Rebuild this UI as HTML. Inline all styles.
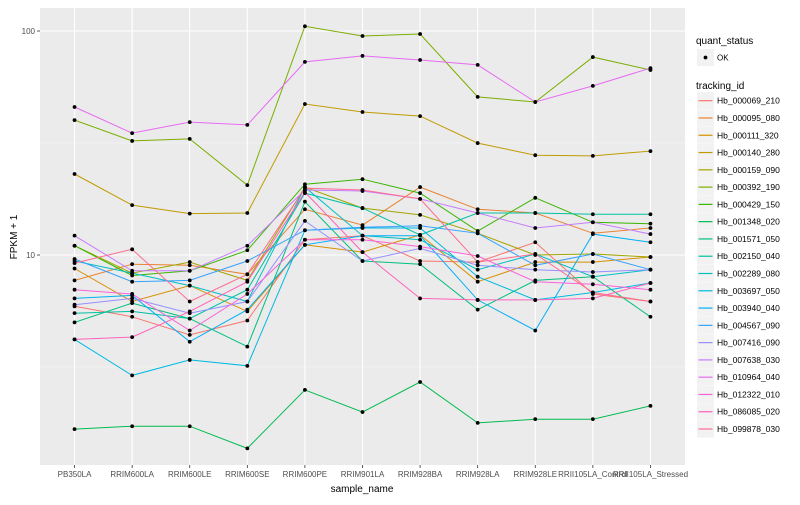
<!DOCTYPE html>
<html><head><meta charset="utf-8"><style>
body{margin:0;background:#fff;font-family:"Liberation Sans",sans-serif}
svg text{font-family:"Liberation Sans",sans-serif}
</style></head><body>
<svg id="c" width="800" height="500" xmlns="http://www.w3.org/2000/svg"></svg>
<script>
const categories=["PB350LA","RRIM600LA","RRIM600LE","RRIM600SE","RRIM600PE","RRIM901LA","RRIM928BA","RRIM928LA","RRIM928LE","RRII105LA_Control","RRII105LA_Stressed"];
const seriesNames=["Hb_000069_210","Hb_000095_080","Hb_000111_320","Hb_000140_280","Hb_000159_090","Hb_000392_190","Hb_000429_150","Hb_001348_020","Hb_001571_050","Hb_002150_040","Hb_002289_080","Hb_003697_050","Hb_003940_040","Hb_004567_090","Hb_007416_090","Hb_007638_030","Hb_010964_040","Hb_012322_010","Hb_086085_020","Hb_099878_030"];
const seriesColors=["#F8766D","#EA8331","#D89000","#C09B00","#A3A500","#7CAE00","#39B600","#00BB4E","#00BF7D","#00C1A3","#00BFC4","#00BAE0","#00B0F6","#35A2FF","#9590FF","#C77CFF","#E76BF3","#FA62DB","#FF62BC","#FF6C91"];
const s01=[5.9,5.3,4.4,5.1,11.7,12.2,9.4,9.3,11.4,6.7,6.2];
const s02=[7.7,9.1,9.0,8.2,16.0,13.6,20.1,16.0,15.4,12.5,13.2];
const s03=[8.7,6.2,7.3,5.6,11.1,10.3,12.3,7.6,9.3,9.3,9.8];
const s04=[23.0,16.7,15.3,15.4,47.2,43.5,41.7,31.6,27.9,27.7,29.1];
const s05=[11.0,8.3,9.3,7.7,20.1,16.2,15.1,12.5,10.0,10.1,9.8];
const s06=[40.0,32.3,33.0,20.5,105,95,97,50.8,48.2,76.5,67.0];
const s07=[11.0,8.1,8.5,10.5,20.7,21.8,18.9,12.8,18.0,14.0,13.8];
const s08=[1.67,1.72,1.72,1.37,2.50,1.99,2.71,1.78,1.85,1.85,2.12];
const s09=[5.0,6.1,5.2,3.9,17.3,9.4,9.1,5.7,7.7,8.0,5.3];
const s10=[5.5,5.6,5.2,7.0,18.9,16.2,12.3,15.4,15.4,15.2,15.2];
const s11=[9.4,8.3,7.3,6.2,20.1,12.2,11.7,8.6,10.1,8.0,8.6];
const s12=[4.2,2.9,3.4,3.2,12.9,13.2,13.2,8.0,6.3,6.8,7.5];
const s13=[6.4,6.6,4.1,5.7,11.1,12.2,12.2,6.3,4.6,12.4,11.4];
const s14=[9.6,7.6,7.7,9.4,12.9,13.3,13.5,12.5,9.0,10.1,8.6];
const s15=[6.0,6.4,5.5,6.2,14.2,9.4,10.7,9.0,8.6,8.4,8.6];
const s16=[12.2,8.5,8.5,11.0,19.5,19.3,17.8,15.4,13.2,14.0,12.4];
const s17=[45.8,35.0,39.2,38.1,72.8,77.4,74.2,70.6,48.2,56.9,68.3];
const s18=[7.0,6.7,4.6,6.7,11.7,11.7,10.9,9.9,7.6,7.4,7.0];
const s19=[4.2,4.3,5.6,7.6,19.1,10.3,6.4,6.3,6.3,6.4,7.5];
const s20=[9.2,10.6,6.2,8.2,19.9,19.5,17.8,9.3,10.1,6.8,6.2];
const seriesValues=[s01,s02,s03,s04,s05,s06,s07,s08,s09,s10,s11,s12,s13,s14,s15,s16,s17,s18,s19,s20];
const yMajor=[10,100];
const yMajorLabels=["10","100"];
const yMinor=[Math.pow(10,0.5),Math.pow(10,1.5)];

const NS="http://www.w3.org/2000/svg";
const svg=document.getElementById('c');
function mk(t,a,p){const e=document.createElementNS(NS,t);for(const k in a)e.setAttribute(k,a[k]);(p||svg).appendChild(e);return e;}
const L=40,R=685,T=8,B=465;
const step=(R-L)/(categories.length-1+1.2);
function xs(i){return L+0.6*step+i*step;}
const lmin=0.0625,lmax=2.1027;
function ys(v){return B-(Math.log10(v)-lmin)/(lmax-lmin)*(B-T);}

const panel=mk('rect',{x:L,y:T,width:R-L,height:B-T,fill:'#ebebeb'});


yMinor.forEach(v=>{const g=mk('line',{x1:L,x2:R,y1:ys(v),y2:ys(v),stroke:'#f5f5f5','stroke-width':0.6});

});
yMajor.forEach((v,i)=>{const g=mk('line',{x1:L,x2:R,y1:ys(v),y2:ys(v),stroke:'#fff','stroke-width':1.1});


const tk=mk('line',{x1:L-3,x2:L,y1:ys(v),y2:ys(v),stroke:'#333','stroke-width':0.8});


const t=mk('text',{x:L-5,y:ys(v)+3,'text-anchor':'end','font-size':8,fill:'#4d4d4d'});t.textContent=yMajorLabels[i];

});
categories.forEach((c,i)=>{const g=mk('line',{x1:xs(i),x2:xs(i),y1:T,y2:B,stroke:'#fff','stroke-width':1.1});


const tk=mk('line',{x1:xs(i),x2:xs(i),y1:B,y2:B+3,stroke:'#333','stroke-width':0.8});


const t=mk('text',{x:xs(i),y:477,'text-anchor':'middle','font-size':8,fill:'#4d4d4d'});t.textContent=c;

});
seriesValues.forEach((vals,si)=>{
  const pts=vals.map((v,i)=>xs(i).toFixed(1)+','+ys(v).toFixed(1)).join(' ');
  const pl=mk('polyline',{points:pts,fill:'none',stroke:seriesColors[si],'stroke-width':1});
  
  
});
seriesValues.forEach((vals,si)=>{
  vals.forEach((v,i)=>{const p=mk('circle',{cx:xs(i),cy:ys(v),r:1.9,fill:'#000'});
  
  });
});
let t=mk('text',{x:362,y:492,'text-anchor':'middle','font-size':10,fill:'#000'});t.textContent='sample_name';


t=mk('text',{x:17,y:237,'text-anchor':'middle','font-size':10,fill:'#000',transform:'rotate(-90 17 237)'});t.textContent='FPKM + 1';


t=mk('text',{x:696,y:44,'font-size':10,fill:'#000'});t.textContent='quant_status';


let k=mk('rect',{x:697,y:49,width:17,height:17,fill:'#f2f2f2'});


mk('circle',{cx:705.5,cy:57.5,r:1.9,fill:'#000'});
t=mk('text',{x:717,y:60.5,'font-size':8,fill:'#000'});t.textContent='OK';


t=mk('text',{x:696,y:89,'font-size':10,fill:'#000'});t.textContent='tracking_id';


seriesNames.forEach((n,i)=>{const cy=100.7+i*17.28;
  const g=mk('g',{});
  
  
  mk('rect',{x:697,y:cy-8.5,width:17,height:17,fill:'#f2f2f2'},g);
  mk('line',{x1:698.5,x2:712.5,y1:cy,y2:cy,stroke:seriesColors[i],'stroke-width':1.2},g);
  const tt=mk('text',{x:717,y:cy+3,'font-size':8.5,fill:'#000'},g);tt.textContent=n;
});
</script>
</body></html>
